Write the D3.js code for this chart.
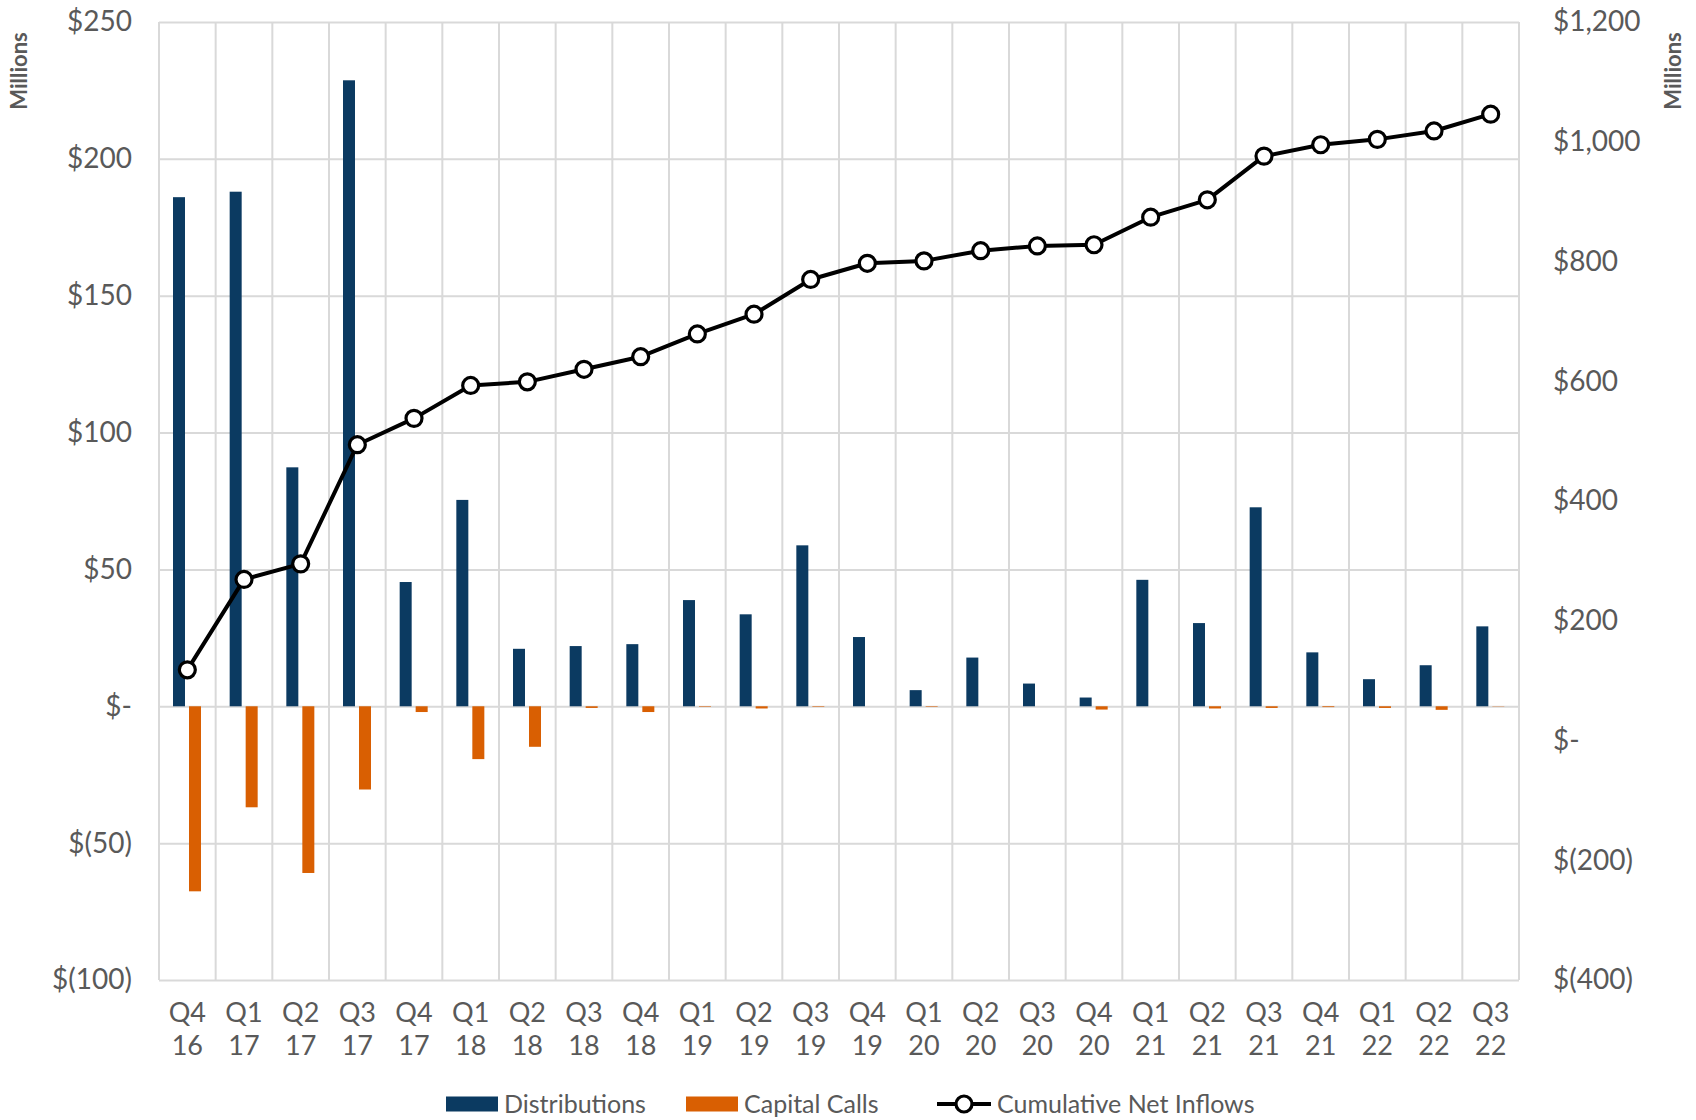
<!DOCTYPE html>
<html>
<head>
<meta charset="utf-8">
<script src="https://cdn.jsdelivr.net/npm/d3@7"></script>
<style>
    body { margin: 0; background: #fff; }
    svg text { font-family: Lato, "Open Sans", sans-serif; fill: #595959; }
</style>
</head>
<body>
<svg id="chart" width="1696" height="1120"></svg>
<script>

// quarters on the x axis ("Q4 16" -> two lines)
let categories = ["Q4 16", "Q1 17", "Q2 17", "Q3 17", "Q4 17", "Q1 18", "Q2 18", "Q3 18", "Q4 18",
    "Q1 19", "Q2 19", "Q3 19", "Q4 19", "Q1 20", "Q2 20", "Q3 20", "Q4 20",
    "Q1 21", "Q2 21", "Q3 21", "Q4 21", "Q1 22", "Q2 22", "Q3 22"];

// $ millions, left axis
let distributions = [186.0, 188.0, 87.3, 228.7, 45.4, 75.4, 21.0, 22.0, 22.7, 38.8, 33.6, 58.8,
    25.3, 5.9, 17.8, 8.3, 3.2, 46.2, 30.4, 72.7, 19.7, 9.9, 15.0, 29.2];
let capitalCalls = [-67.6, -36.9, -60.9, -30.4, -2.1, -19.3, -14.8, -0.6, -2.1, -0.2, -0.8, -0.2,
    0, -0.2, 0, 0, -1.2, 0, -0.8, -0.6, -0.3, -0.6, -1.3, -0.1];

// $ millions, right axis
let cumulative = [118, 269, 295, 494, 538, 593, 599, 620, 641, 679, 712, 770,
    797, 801, 818, 826, 828, 874, 903, 976, 995, 1004, 1018, 1046];

let leftTicks = [250, 200, 150, 100, 50, 0, -50, -100];
let rightTicks = [1200, 1000, 800, 600, 400, 200, 0, -200, -400];

let legendNames = ["Distributions", "Capital Calls", "Cumulative Net Inflows"];

let colBlue = "#0b3a61";
let colOrange = "#d95f02";
let colGrid = "#d9d9d9";

// plot area
let pL = 159, pR = 1519, pT = 22, pB = 980;

let svg = d3.select("#chart");

let x0 = d3.scaleBand().domain(categories).range([pL, pR]);
let x1 = d3.scaleBand().domain(["dist", "calls"]).range([14, 42]).paddingInner(0.25);
let yL = d3.scaleLinear().domain([-100, 250]).range([pB, pT]);
let yR = d3.scaleLinear().domain([-400, 1200]).range([pB, pT]);

// $250, $-, $(50), $1,200
let money = function (v) {
    if (v === 0) return "$-";
    let s = d3.format(",")(Math.abs(v));
    return v < 0 ? "$(" + s + ")" : "$" + s;
};

// horizontal gridlines
svg.append("g")
    .attr("transform", "translate(" + pL + ",0)")
    .call(d3.axisLeft(yL).tickValues(leftTicks).tickSize(-(pR - pL)).tickFormat(""))
    .call(g => g.select(".domain").remove())
    .call(g => g.selectAll("line").attr("stroke", colGrid).attr("stroke-width", 2));

// vertical gridlines on the category borders
let borders = categories.map(c => x0(c)).concat([pR]);
svg.append("g")
    .selectAll("line")
    .data(borders)
    .enter()
    .append("line")
    .attr("x1", d => d).attr("x2", d => d)
    .attr("y1", pT).attr("y2", pB)
    .attr("stroke", colGrid)
    .attr("stroke-width", 2);

// bars
let bars = svg.append("g");
bars.selectAll(".dist")
    .data(categories)
    .enter()
    .append("rect")
    .attr("x", (c) => x0(c) + x1("dist"))
    .attr("width", x1.bandwidth())
    .attr("y", (c, i) => yL(Math.max(0, distributions[i])))
    .attr("height", (c, i) => Math.abs(yL(distributions[i]) - yL(0)))
    .attr("fill", colBlue);

bars.selectAll(".calls")
    .data(categories)
    .enter()
    .append("rect")
    .attr("x", (c) => x0(c) + x1("calls"))
    .attr("width", x1.bandwidth())
    .attr("y", (c, i) => yL(Math.max(0, capitalCalls[i])))
    .attr("height", (c, i) => Math.abs(yL(capitalCalls[i]) - yL(0)))
    .attr("fill", colOrange);

// cumulative line + markers
let lineGen = d3.line()
    .x((d, i) => x0(categories[i]) + x0.bandwidth() / 2)
    .y(d => yR(d));

svg.append("path")
    .datum(cumulative)
    .attr("d", lineGen)
    .attr("fill", "none")
    .attr("stroke", "#000")
    .attr("stroke-width", 4)
    .attr("stroke-linejoin", "round");

svg.append("g")
    .selectAll("circle")
    .data(cumulative)
    .enter()
    .append("circle")
    .attr("cx", (d, i) => x0(categories[i]) + x0.bandwidth() / 2)
    .attr("cy", d => yR(d))
    .attr("r", 8)
    .attr("fill", "#fff")
    .attr("stroke", "#000")
    .attr("stroke-width", 3.2);

// left axis labels
svg.append("g")
    .attr("transform", "translate(" + pL + ",0)")
    .call(d3.axisLeft(yL).tickValues(leftTicks).tickFormat(money).tickSize(0).tickPadding(27))
    .call(g => g.select(".domain").remove())
    .call(g => g.selectAll("text").style("font-size", "28px"));

// right axis labels
svg.append("g")
    .attr("transform", "translate(" + pR + ",0)")
    .call(d3.axisRight(yR).tickValues(rightTicks).tickFormat(money).tickSize(0).tickPadding(34))
    .call(g => g.select(".domain").remove())
    .call(g => g.selectAll("text").style("font-size", "28px"));

// category labels, two lines each
let xAxis = svg.append("g")
    .attr("transform", "translate(0," + pB + ")")
    .call(d3.axisBottom(x0).tickSize(0))
    .call(g => g.select(".domain").remove());

xAxis.selectAll("text").each(function (d) {
    let parts = d.split(" ");
    let t = d3.select(this).text(null).attr("dy", null).attr("y", 0).style("font-size", "27px");
    t.append("tspan").attr("x", 0).attr("y", 42).text(parts[0]);
    t.append("tspan").attr("x", 0).attr("y", 75).text(parts[1]);
});

// "Millions" unit labels
[19, 1673].forEach(function (cx) {
    svg.append("text")
        .attr("transform", "translate(" + cx + ",71) rotate(-90)")
        .attr("text-anchor", "middle")
        .attr("dy", "0.35em")
        .style("font-size", "22px")
        .style("font-weight", "bold")
        .text("Millions");
});

// legend
let legY = 1104;
let leg = svg.append("g").style("font-size", "25px");

leg.append("rect").attr("x", 446).attr("y", legY - 7.5).attr("width", 52).attr("height", 15).attr("fill", colBlue);
leg.append("text").attr("x", 504).attr("y", legY).attr("dy", "0.35em").text(legendNames[0]);

leg.append("rect").attr("x", 686).attr("y", legY - 7.5).attr("width", 52).attr("height", 15).attr("fill", colOrange);
leg.append("text").attr("x", 744).attr("y", legY).attr("dy", "0.35em").text(legendNames[1]);

leg.append("line").attr("x1", 937).attr("x2", 991).attr("y1", legY).attr("y2", legY)
    .attr("stroke", "#000").attr("stroke-width", 4);
leg.append("circle").attr("cx", 964).attr("cy", legY).attr("r", 8)
    .attr("fill", "#fff").attr("stroke", "#000").attr("stroke-width", 3.2);
leg.append("text").attr("x", 997).attr("y", legY).attr("dy", "0.35em").text(legendNames[2]);

</script>
</body>
</html>
